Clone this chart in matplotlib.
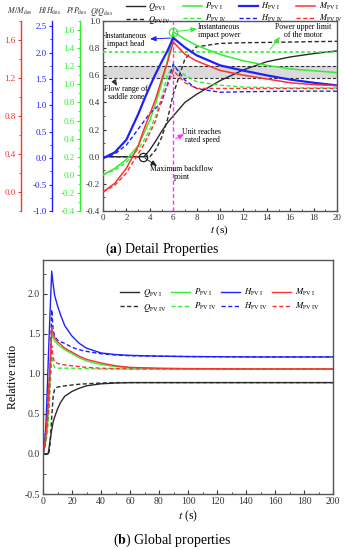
import numpy as np
import matplotlib
matplotlib.use("Agg")
import matplotlib.pyplot as plt
from matplotlib.ticker import MultipleLocator, FormatStrFormatter

plt.rcParams['font.family'] = ['Liberation Serif', 'DejaVu Serif']
plt.rcParams['mathtext.fontset'] = 'stix'
plt.rcParams['axes.unicode_minus'] = False

# ---- (a) detail, 0-20 s ----
t_d = [0, 1, 2, 3, 3.5, 4, 4.5, 5, 5.5, 6, 7, 8, 10, 12, 14, 16, 18, 20]
Q1_d = [0, 0, 0, 0, 0, 0.05, 0.115, 0.185, 0.25, 0.30, 0.40, 0.46, 0.56, 0.64, 0.70, 0.735, 0.76, 0.78]
Q4_d = [0, 0, 0, 0, 0, 0, 0.05, 0.14, 0.27, 0.46, 0.72, 0.81, 0.835, 0.84, 0.842, 0.845, 0.848, 0.85]
P1_d = [0, 0.07, 0.17, 0.32, 0.46, 0.60, 0.79, 1.0, 1.25, 1.58, 1.50, 1.43, 1.33, 1.26, 1.21, 1.17, 1.15, 1.13]
P4_d = [0, 0.05, 0.14, 0.28, 0.38, 0.50, 0.65, 0.85, 1.10, 1.20, 1.10, 1.03, 0.99, 0.97, 0.965, 0.96, 0.96, 0.96]
H1_d = [0, 0.11, 0.35, 0.83, 1.10, 1.36, 1.60, 1.82, 2.03, 2.28, 2.10, 1.95, 1.76, 1.66, 1.57, 1.49, 1.43, 1.38]
H4_d = [0, 0.08, 0.25, 0.55, 0.70, 0.85, 0.95, 1.05, 1.40, 1.78, 1.48, 1.32, 1.25, 1.26, 1.265, 1.27, 1.27, 1.27]
M1_d = [0, 0.09, 0.25, 0.48, 0.66, 0.82, 0.98, 1.18, 1.36, 1.58, 1.45, 1.38, 1.28, 1.23, 1.19, 1.15, 1.13, 1.12]
M4_d = [0, 0.07, 0.20, 0.40, 0.50, 0.62, 0.75, 0.97, 1.12, 1.28, 1.15, 1.09, 1.09, 1.09, 1.09, 1.09, 1.09, 1.09]

saddle_band = [0.58, 0.67]   # Q/Qdes
power_limit = 1.36           # P/Pdes
t_rated = 6
t_backflow = 3.4

# ---- (b) global, 0-200 s ----
t_g = [0, 1, 2, 3, 3.5, 4, 5, 6, 7, 8, 10, 12, 15, 20, 25, 30, 40, 50, 60, 80, 100, 150, 200]
Q1_g = [0, 0, 0, 0, 0, 0.05, 0.185, 0.30, 0.40, 0.46, 0.56, 0.64, 0.72, 0.78, 0.82, 0.85, 0.875, 0.885, 0.89, 0.89, 0.89, 0.89, 0.89]
Q4_g = [0, 0, 0, 0, 0, 0, 0.14, 0.46, 0.72, 0.81, 0.835, 0.84, 0.85, 0.86, 0.87, 0.875, 0.885, 0.89, 0.89, 0.89, 0.89, 0.89, 0.89]
P1_g = [0, 0.07, 0.17, 0.32, 0.46, 0.60, 1.0, 1.50, 1.45, 1.41, 1.37, 1.34, 1.30, 1.25, 1.20, 1.16, 1.115, 1.09, 1.075, 1.065, 1.06, 1.06, 1.06]
P4_g = [0, 0.05, 0.14, 0.28, 0.38, 0.50, 0.85, 1.22, 1.12, 1.08, 1.07, 1.07, 1.07, 1.07, 1.065, 1.065, 1.06, 1.06, 1.06, 1.06, 1.06, 1.06, 1.06]
H1_g = [0, 0.11, 0.35, 0.83, 1.10, 1.36, 1.82, 2.28, 2.12, 1.98, 1.85, 1.74, 1.60, 1.47, 1.38, 1.32, 1.26, 1.24, 1.23, 1.22, 1.215, 1.21, 1.21]
H4_g = [0, 0.08, 0.25, 0.55, 0.70, 0.85, 1.05, 1.80, 1.55, 1.47, 1.42, 1.40, 1.38, 1.33, 1.30, 1.28, 1.25, 1.235, 1.225, 1.22, 1.215, 1.21, 1.21]
M1_g = [0, 0.09, 0.25, 0.48, 0.66, 0.82, 1.18, 1.575, 1.50, 1.45, 1.40, 1.37, 1.32, 1.27, 1.22, 1.18, 1.135, 1.10, 1.08, 1.07, 1.065, 1.06, 1.06]
M4_g = [0, 0.07, 0.20, 0.40, 0.50, 0.62, 0.97, 1.35, 1.20, 1.15, 1.13, 1.12, 1.11, 1.10, 1.09, 1.08, 1.07, 1.065, 1.06, 1.06, 1.06, 1.06, 1.06]

labels = [r"$Q_{\rm FV\ I}$", r"$Q_{\rm FV\ IV}$", r"$P_{\rm FV\ I}$", r"$P_{\rm FV\ IV}$",
          r"$H_{\rm FV\ I}$", r"$H_{\rm FV\ IV}$", r"$M_{\rm FV\ I}$", r"$M_{\rm FV\ IV}$"]

c_q = '#2b2b2b'
c_p = '#33ee33'
c_h = '#2020ff'
c_m = '#ff3030'
frame = '#555555'
dash = (0, (3, 1.8))

fig = plt.figure(figsize=(3.44, 5.5), dpi=100)

# ================= top panel =================
W, H = 234, 190
ax_q = fig.add_axes([103/344, 1-211/550, W/344, H/550])
ax_p = ax_q.twinx()
ax_h = ax_q.twinx()
ax_m = ax_q.twinx()

ax_q.set_xlim(0, 20)
ax_q.set_ylim(-0.4, 1.0)
ax_p.set_ylim(-0.4, 1.7)
ax_h.set_ylim(-1.0, 2.6)
ax_m.set_ylim(-0.2, 1.8)

for s in ax_q.spines.values():
    s.set_color(frame)
    s.set_linewidth(1.0)
ax_q.xaxis.set_major_locator(MultipleLocator(2))
ax_q.xaxis.set_minor_locator(MultipleLocator(1))
ax_q.yaxis.set_major_locator(MultipleLocator(0.2))
ax_q.yaxis.set_minor_locator(MultipleLocator(0.1))
ax_q.yaxis.set_major_formatter(FormatStrFormatter('%.1f'))
ax_q.tick_params(which='both', direction='in', labelsize=6.5, colors='#333333', pad=2)
ax_q.tick_params(which='major', length=2.5)
ax_q.tick_params(which='minor', length=1.5)
ax_q.tick_params(axis='y', which='both', right=False)

side = [(ax_p, -23/W, c_p, 0.2, 0.1),
        (ax_h, -51/W, c_h, 0.5, 0.25),
        (ax_m, -82/W, c_m, 0.4, 0.2)]
for ax, off, col, maj, mnr in side:
    for k in ['right', 'top', 'bottom']:
        ax.spines[k].set_visible(False)
    ax.spines['left'].set_visible(True)
    ax.spines['left'].set_position(('axes', off))
    ax.spines['left'].set_color(col)
    ax.spines['left'].set_linewidth(1.0)
    ax.yaxis.set_ticks_position('left')
    ax.yaxis.set_label_position('left')
    ax.yaxis.set_major_locator(MultipleLocator(maj))
    ax.yaxis.set_minor_locator(MultipleLocator(mnr))
    ax.yaxis.set_major_formatter(FormatStrFormatter('%.1f'))
    ax.tick_params(axis='y', which='both', colors=col, direction='out', labelsize=6.5, pad=1.5)
    ax.tick_params(axis='y', which='major', length=2.5)
    ax.tick_params(axis='y', which='minor', length=1.5)

# reference lines
ax_q.axhspan(saddle_band[0], saddle_band[1], color='#dadada', lw=0, zorder=0)
for v in saddle_band:
    ax_q.axhline(v, color='#333333', lw=0.8, ls=dash, zorder=1)
ax_q.axvline(t_rated, color='#ff33ff', lw=1.0, ls=dash, zorder=5)
ax_p.axhline(power_limit, color=c_p, lw=1.2, ls=(0, (2, 1.5)))

q1, = ax_q.plot(t_d, Q1_d, color=c_q, lw=1.0)
q4, = ax_q.plot(t_d, Q4_d, color=c_q, lw=1.0, ls=dash)
p1, = ax_p.plot(t_d, P1_d, color=c_p, lw=1.1)
p4, = ax_p.plot(t_d, P4_d, color=c_p, lw=1.0, ls=dash)
h1, = ax_h.plot(t_d, H1_d, color=c_h, lw=1.6)
h4, = ax_h.plot(t_d, H4_d, color=c_h, lw=1.0, ls=dash)
m1, = ax_m.plot(t_d, M1_d, color=c_m, lw=1.1)
m4, = ax_m.plot(t_d, M4_d, color=c_m, lw=1.0, ls=dash)

# marker circles
ax_p.plot([t_rated], [max(P1_d)], marker='o', ms=6, mfc='none', mec=c_p, mew=0.9)
ax_q.plot([t_backflow], [0], marker='o', ms=6, mfc='none', mec='#222222', mew=0.9)

def frac(x, y):
    return ((x - 103) / W, (211 - y) / H)

fs_ann = 5.6
notes = [("Instantaneous\nimpact head", (126, 40)),
         ("Instantaneous\nimpact power", (219, 31)),
         ("Power upper limit\nof the motor", (303, 31)),
         ("Flow range of\nsaddle zone", (126, 93)),
         ("Unit reaches\nrated speed", (202, 136)),
         ("Maximum backflow\npoint", (182, 173))]
for txt, (x, y) in notes:
    ax_q.text(*frac(x, y), txt, transform=ax_q.transAxes, ha='center', va='center',
              fontsize=fs_ann, linespacing=1.0, zorder=10)

def arrow(src_ax, src, dst_px, col):
    ax_q.annotate('', xy=frac(*dst_px), xycoords=ax_q.transAxes,
                  xytext=src, textcoords=src_ax.transData,
                  arrowprops=dict(arrowstyle='-|>,head_length=0.35,head_width=0.15',
                                  color=col, lw=0.7, shrinkA=2, shrinkB=0),
                  zorder=10)

arrow(ax_h, (t_rated, max(H1_d)), (150, 39), c_h)
arrow(ax_p, (t_rated, max(P1_d)), (197, 29), c_p)
arrow(ax_p, (14.1, power_limit), (280, 37), c_p)
arrow(ax_q, (0.8, saddle_band[0]), (117, 86), '#333333')
arrow(ax_q, (t_rated, 0.12), (184, 134), '#ff33ff')
arrow(ax_q, (t_backflow, 0), (157, 166), '#222222')

ax_q.set_xlabel(r"$t$ (s)", fontsize=8, labelpad=1)

# axis titles above the spines
for txt, x in [(r"$M\,/M_{\rm des}$", 20), (r"$H/H_{\rm des}$", 50),
               (r"$P/P_{\rm des}$", 77), (r"$Q/Q_{\rm des}$", 101)]:
    fig.text(x/344, 1-11.5/550, txt, ha='center', va='center', fontsize=5.8, color='#333333')

order = [q1, q4, p1, p4, h1, h4, m1, m4]
fig.legend(order, labels, ncol=4, loc='upper right', bbox_to_anchor=(1.0, 1.0),
           frameon=False, fontsize=6, handlelength=2.3, handletextpad=0.4,
           columnspacing=1.4, labelspacing=0.05, borderaxespad=0.1, borderpad=0.05)

fig.text(162/344, 1-249/550, r"($\mathbf{a}$) Detail Properties", ha='center', va='center', fontsize=10)

# ================= bottom panel =================
ax_g = fig.add_axes([43/344, 1-494/550, 290/344, 234/550])
ax_g.set_xlim(0, 200)
ax_g.set_ylim(-0.5, 2.42)
for s in ax_g.spines.values():
    s.set_color(frame)
    s.set_linewidth(1.0)
ax_g.xaxis.set_major_locator(MultipleLocator(20))
ax_g.xaxis.set_minor_locator(MultipleLocator(10))
ax_g.yaxis.set_major_locator(MultipleLocator(0.5))
ax_g.yaxis.set_minor_locator(MultipleLocator(0.25))
ax_g.yaxis.set_major_formatter(FormatStrFormatter('%.1f'))
ax_g.tick_params(which='both', direction='in', labelsize=7, colors='#333333', pad=2,
                 top=False, right=False)
ax_g.tick_params(which='major', length=3)
ax_g.tick_params(which='minor', length=1.8)

g = []
g += ax_g.plot(t_g, Q1_g, color=c_q, lw=1.0)
g += ax_g.plot(t_g, Q4_g, color=c_q, lw=1.0, ls=dash)
g += ax_g.plot(t_g, P1_g, color=c_p, lw=1.0)
g += ax_g.plot(t_g, P4_g, color=c_p, lw=1.0, ls=dash)
g += ax_g.plot(t_g, H1_g, color=c_h, lw=1.0)
g += ax_g.plot(t_g, H4_g, color=c_h, lw=1.0, ls=dash)
g += ax_g.plot(t_g, M1_g, color=c_m, lw=1.0)
g += ax_g.plot(t_g, M4_g, color=c_m, lw=1.0, ls=dash)

ax_g.legend(g, labels, ncol=4, loc='upper left', bbox_to_anchor=(0.265, 0.885),
            frameon=False, fontsize=6.3, handlelength=2.2, handletextpad=0.4,
            columnspacing=0.5, labelspacing=0.3, borderaxespad=0, borderpad=0)

ax_g.set_xlabel(r"$t$ (s)", fontsize=8.5, labelpad=2)
ax_g.set_ylabel("Relative ratio", fontsize=8.5, labelpad=4)

fig.text(172/344, 1-540/550, r"($\mathbf{b}$) Global properties", ha='center', va='center', fontsize=10)

fig.savefig("out.png", dpi=100)
